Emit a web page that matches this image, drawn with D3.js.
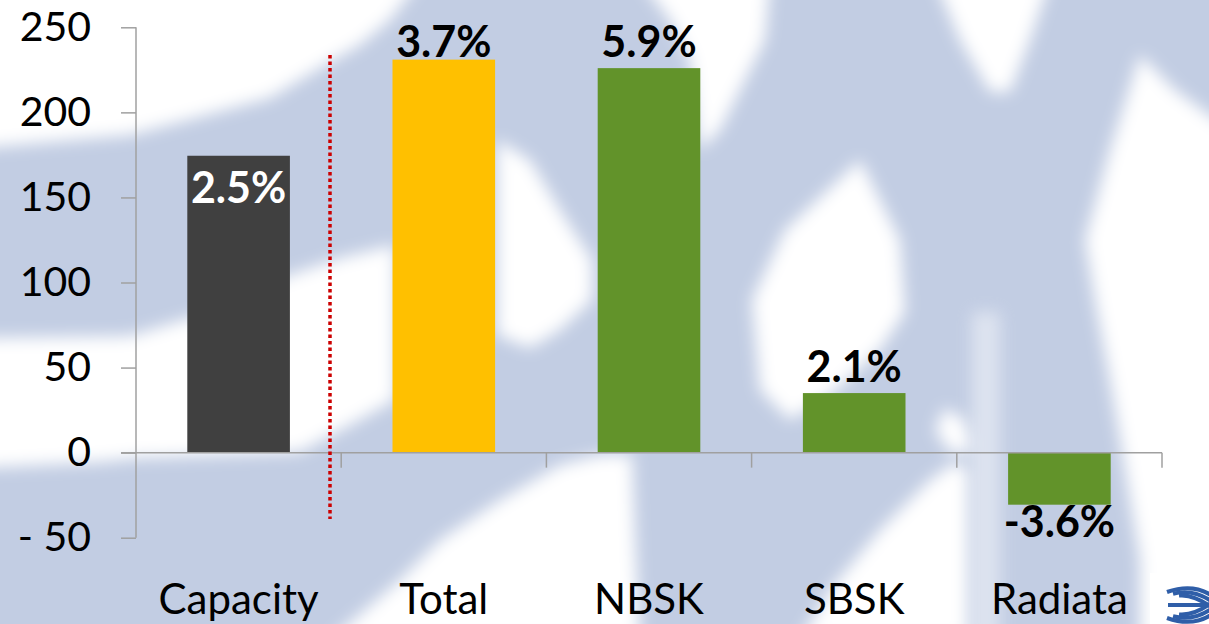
<!DOCTYPE html>
<html>
<head>
<meta charset="utf-8">
<script src="https://d3js.org/d3.v7.min.js"></script>
<style>
  body { margin: 0; background: #fff; }
  svg text { font-family: Lato, "Open Sans", sans-serif; }
</style>
</head>
<body>
<script>
// chart data
var categories = ["Capacity", "Total", "NBSK", "SBSK", "Radiata"];
var values = [174.5, 231, 226, 35, -30.6];
var labels = ["2.5%", "3.7%", "5.9%", "2.1%", "-3.6%"];
var barColors = ["#404040", "#ffc000", "#62932a", "#62932a", "#62932a"];
var yTicks = [-50, 0, 50, 100, 150, 200, 250];

var width = 1209, height = 624;

var svg = d3.select("body").append("svg")
    .attr("width", width)
    .attr("height", height);

// ---- decorative background (pixelated blue/white pattern) ----
var defs = svg.append("defs");
defs.append("filter").attr("id", "soft")
    .attr("filterUnits", "userSpaceOnUse")
    .attr("x", -50).attr("y", -50).attr("width", width + 100).attr("height", height + 100)
  .append("feGaussianBlur").attr("stdDeviation", 8);

svg.append("rect").attr("width", width).attr("height", height).attr("fill", "#c2cde3");

var whiteShapes = [
  [[-20,-20],[420,-20],[390,20],[360,45],[330,62],[270,98],[180,122],[130,135],[-20,148]],
  [[-20,338],[130,336],[200,315],[290,275],[340,258],[395,245],[395,400],[350,425],[300,452],[136,458],[100,462],[-20,468]],
  [[640,-20],[770,-20],[765,40],[740,90],[720,130],[700,150],[690,60],[670,20]],
  [[860,160],[900,240],[905,312],[880,350],[830,395],[790,420],[760,390],[752,300],[785,230]],
  [[1140,55],[1175,90],[1230,130],[1230,640],[1140,640],[1140,560],[1122,450],[1110,380],[1095,300],[1085,240],[1110,150]],
  [[935,-20],[1050,-20],[1030,40],[1010,92],[990,92],[960,40]],
  [[330,640],[400,580],[440,540],[500,500],[560,465],[600,455],[632,455],[636,560],[640,640]],
  [[800,640],[830,590],[880,530],[930,480],[955,462],[968,470],[968,640]],
  [[497,140],[530,160],[560,210],[592,260],[592,300],[560,330],[530,348],[497,335]],
  [[945,408],[965,420],[972,452],[950,452],[935,430]]
];
svg.append("g").attr("filter", "url(#soft)")
  .selectAll("polygon").data(whiteShapes).enter()
  .append("polygon")
    .attr("points", function(d) { return d.join(" "); })
    .attr("fill", "#ffffff");
// light strip right of radiata
svg.append("rect").attr("x", 972).attr("y", 312).attr("width", 28).attr("height", 330)
    .attr("fill", "#ffffff").attr("opacity", 0.45).attr("filter", "url(#soft)");

// ---- scales ----
var x = d3.scaleBand()
    .domain(categories)
    .range([136, 1162])
    .paddingInner(0.5)
    .paddingOuter(0.25);

var y = d3.scaleLinear()
    .domain([-50, 250])
    .range([537.7, 27.3]);

// y axis
var yAxis = d3.axisLeft(y)
    .tickValues(yTicks)
    .tickSize(15)
    .tickPadding(30)
    .tickFormat(function(d) { return d < 0 ? "- " + Math.abs(d) : d; });

var gy = svg.append("g").attr("transform", "translate(136,0)").call(yAxis);
gy.select(".domain").attr("stroke", "#a0a0a0").attr("stroke-width", 1.5)
    .attr("d", "M0," + y(250) + "V" + y(-50));
gy.selectAll(".tick line").attr("stroke", "#a0a0a0").attr("stroke-width", 1.5);
gy.selectAll(".tick text").attr("fill", "#000").attr("font-size", 41)
    .attr("font-family", "Lato, sans-serif");

// bars
svg.selectAll("rect.bar").data(values).enter()
  .append("rect").attr("class", "bar")
    .attr("x", function(d, i) { return x(categories[i]); })
    .attr("width", x.bandwidth())
    .attr("y", function(d) { return y(Math.max(d, 0)); })
    .attr("height", function(d) { return Math.abs(y(d) - y(0)); })
    .attr("fill", function(d, i) { return barColors[i]; });

// x axis line at zero with category boundary ticks
var step = x.step();
svg.append("line")
    .attr("x1", 121).attr("x2", 1162)
    .attr("y1", y(0)).attr("y2", y(0))
    .attr("stroke", "#a0a0a0").attr("stroke-width", 1.5);
svg.selectAll("line.cat-tick").data(categories).enter()
  .append("line").attr("class", "cat-tick")
    .attr("x1", function(d) { return x(d) + x.bandwidth() / 2 + step / 2; })
    .attr("x2", function(d) { return x(d) + x.bandwidth() / 2 + step / 2; })
    .attr("y1", y(0)).attr("y2", y(0) + 15)
    .attr("stroke", "#a0a0a0").attr("stroke-width", 1.5);

// category labels
svg.selectAll("text.cat").data(categories).enter()
  .append("text").attr("class", "cat")
    .attr("x", function(d) { return x(d) + x.bandwidth() / 2; })
    .attr("y", 614)
    .attr("text-anchor", "middle")
    .attr("font-size", 42)
    .attr("fill", "#000")
    .text(function(d) { return d; });

// red dotted separator between capacity and demand
svg.append("line")
    .attr("x1", 330).attr("x2", 330)
    .attr("y1", 55).attr("y2", 519)
    .attr("stroke", "#cc0000").attr("stroke-width", 3.5)
    .attr("stroke-dasharray", "3.5,3");

// data labels
svg.selectAll("text.val").data(values).enter()
  .append("text").attr("class", "val")
    .attr("x", function(d, i) { return x(categories[i]) + x.bandwidth() / 2; })
    .attr("y", function(d, i) {
      if (i === 0) return y(d) + 47;          // inside end
      if (d < 0) return y(d) + 32;            // below negative bar
      return Math.max(y(d) - 11, 57);         // above bar, kept inside the plot
    })
    .attr("text-anchor", "middle")
    .attr("font-size", 43)
    .attr("font-weight", "bold")
    .attr("fill", function(d, i) { return i === 0 ? "#ffffff" : "#000000"; })
    .text(function(d, i) { return labels[i]; });

// small corner logo
var logo = svg.append("g");
logo.append("rect").attr("x", 1150).attr("y", 573).attr("width", 60).attr("height", 52).attr("fill", "#fff");
[0, 6, 12].forEach(function(o) {
  logo.append("path")
    .attr("d", "M" + (1167 + o) + "," + (592 + o * 0.3) + " Q1195," + (582 + o) + " 1215," + (598 + o))
    .attr("fill", "none").attr("stroke", "#2f5ea8").attr("stroke-width", 4);
  logo.append("path")
    .attr("d", "M" + (1167 + o) + "," + (618 - o * 0.3) + " Q1195," + (628 - o) + " 1215," + (612 - o))
    .attr("fill", "none").attr("stroke", "#2f5ea8").attr("stroke-width", 4);
});
logo.append("path").attr("d", "M1168,605 L1215,605").attr("stroke", "#2f5ea8").attr("stroke-width", 4);
</script>
</body>
</html>
